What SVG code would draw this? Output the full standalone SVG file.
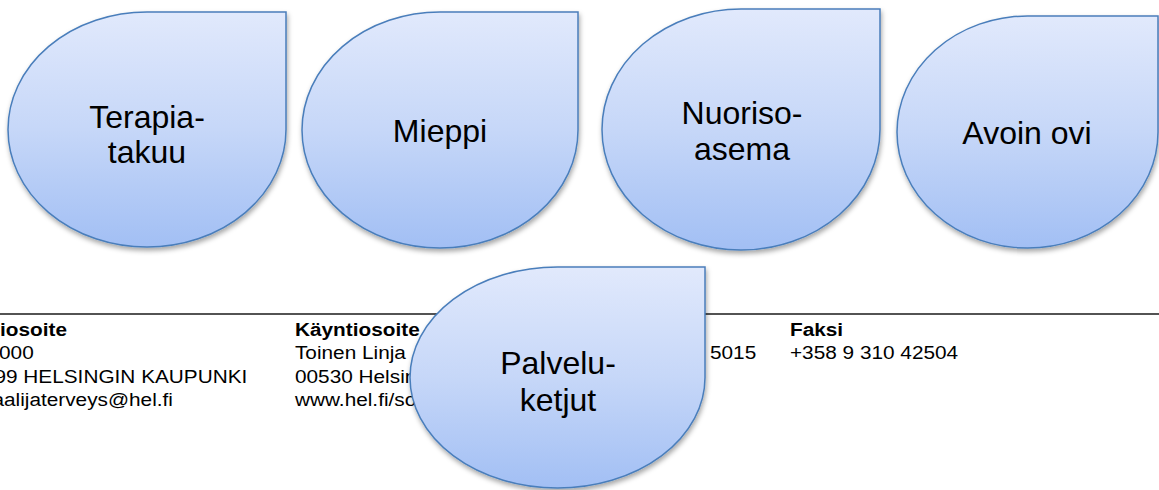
<svg xmlns="http://www.w3.org/2000/svg" width="1159" height="490" viewBox="0 0 1159 490">
  <defs>
    <linearGradient id="blueFill" x1="0" y1="0" x2="0" y2="1">
      <stop offset="0" stop-color="#E1E9FC"/>
      <stop offset="0.5" stop-color="#C6D7F8"/>
      <stop offset="1" stop-color="#A2BFF4"/>
    </linearGradient>
    <filter id="shadow" x="-10%" y="-10%" width="125%" height="125%">
      <feDropShadow dx="1" dy="3" stdDeviation="2.5" flood-color="#000" flood-opacity="0.35"/>
    </filter>
  </defs>
  <style>
    .drop { fill: url(#blueFill); stroke: #4A7EBB; stroke-width: 1.5; filter: url(#shadow); }
    .label { font-family: "Liberation Sans", Arial, sans-serif; font-size: 32px; fill: #000; text-anchor: middle; }
    .foot { font-family: "Liberation Sans", Arial, sans-serif; font-size: 18.8px; fill: #000; }
    .bold { font-weight: bold; }
  </style>
  <rect x="0" y="0" width="1159" height="490" fill="#fff"/>

  <g id="footer">
    <line x1="0" y1="314" x2="1159" y2="314" stroke="#1a1a1a" stroke-width="1.6"/>
    <g transform="scale(1.1064,1)" class="foot">
      <text x="0" y="336" class="bold">iosoite</text>
      <text x="-0.9" y="359.5">000</text>
      <text x="-5.06" y="383">99 HELSINGIN KAUPUNKI</text>
      <text x="-6.87" y="406">aalijaterveys@hel.fi</text>
      <text x="266.6" y="336" class="bold">Käyntiosoite</text>
      <text x="266.6" y="359.5">Toinen Linja</text>
      <text x="266.6" y="383">00530 Helsin</text>
      <text x="266.6" y="406">www.hel.fi/so</text>
      <text x="641.7" y="359.5">5015</text>
      <text x="714" y="336" class="bold">Faksi</text>
      <text x="714" y="359.5">+358 9 310 42504</text>
    </g>
  </g>

  <g id="node-terapiatakuu">
    <path class="drop" d="M8,129.5 A139,117.5 0 0 1 147,12 L286,12 L286,129.5 A139,117.5 0 0 1 147,247 A139,117.5 0 0 1 8,129.5 Z"/>
    <text class="label" x="147" y="128">Terapia-</text>
    <text class="label" x="147" y="163">takuu</text>
  </g>

  <g id="node-mieppi">
    <path class="drop" d="M302,130 A138,118 0 0 1 440,12 L578,12 L578,130 A138,118 0 0 1 440,248 A138,118 0 0 1 302,130 Z"/>
    <text class="label" x="440" y="142">Mieppi</text>
  </g>

  <g id="node-nuorisoasema">
    <path class="drop" d="M602,129.5 A139,120.5 0 0 1 741,9 L880,9 L880,129.5 A139,120.5 0 0 1 741,250 A139,120.5 0 0 1 602,129.5 Z"/>
    <text class="label" x="742" y="124">Nuoriso-</text>
    <text class="label" x="742" y="160">asema</text>
  </g>

  <g id="node-avoin-ovi">
    <path class="drop" d="M897,132 A130.5,116 0 0 1 1027.5,16 L1158,16 L1158,132 A130.5,116 0 0 1 1027.5,248 A130.5,116 0 0 1 897,132 Z"/>
    <text class="label" x="1027" y="144">Avoin ovi</text>
  </g>

  <g id="node-palveluketjut">
    <path class="drop" d="M410,377.5 A147.5,110.5 0 0 1 557.5,267 L705,267 L705,377.5 A147.5,110.5 0 0 1 557.5,488 A147.5,110.5 0 0 1 410,377.5 Z"/>
    <text class="label" x="558" y="374">Palvelu-</text>
    <text class="label" x="558" y="411">ketjut</text>
  </g>

  <g id="connectors"/>
</svg>
